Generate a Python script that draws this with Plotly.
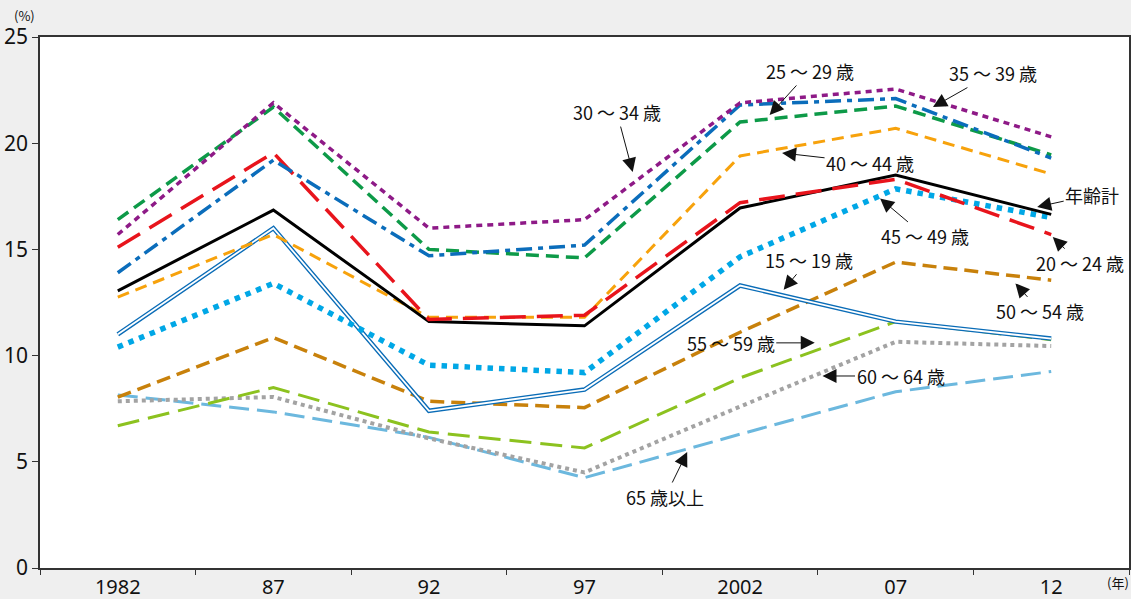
import plotly.graph_objects as go

years = ["1982", "87", "92", "97", "2002", "07", "12"]

total = [13.05, 16.85, 11.6, 11.4, 16.95, 18.5, 16.65]
age15_19 = [11.0, 16.0, 7.4, 8.4, 13.3, 11.6, 10.8]
age20_24 = [15.1, 19.55, 11.7, 11.9, 17.2, 18.3, 15.7]
age25_29 = [16.4, 21.7, 15.0, 14.6, 21.0, 21.75, 19.45]
age30_34 = [15.7, 21.9, 16.0, 16.4, 21.9, 22.55, 20.3]
age35_39 = [13.9, 19.2, 14.7, 15.2, 21.8, 22.1, 19.3]
age40_44 = [12.75, 15.7, 11.8, 11.8, 19.4, 20.7, 18.55]
age45_49 = [10.4, 13.4, 9.55, 9.2, 14.65, 17.85, 16.5]
age50_54 = [8.05, 10.85, 7.85, 7.55, 11.1, 14.4, 13.55]
age55_59 = [6.7, 8.5, 6.4, 5.65, 8.95, 11.6, 10.75]
age60_64 = [7.85, 8.05, 6.1, 4.5, 7.6, 10.65, 10.45]
age65 = [8.15, 7.35, 6.15, 4.25, 6.3, 8.3, 9.25]

fig = go.Figure()

def add(vals, color, width, dash, name):
    fig.add_trace(go.Scatter(x=years, y=vals, mode="lines", name=name,
                             line=dict(color=color, width=width, dash=dash),
                             hoverinfo="skip"))

add(age65, "#6cb8de", 3, "20px,8px", "65歳以上")
add(age60_64, "#a3a3a3", 4, "4px,4px", "60～64歳")
add(age55_59, "#8cc21f", 3, "22px,9px", "55～59歳")
add(age50_54, "#c8810b", 3.5, "14px,7px", "50～54歳")
add(age15_19, "#0a6cb7", 4.5, "solid", "15～19歳")
add(age15_19, "#ffffff", 1.8, "solid", "15～19歳_inner")
add(age45_49, "#00a7e6", 5.5, "5.5px,6px", "45～49歳")
add(age40_44, "#f7a20c", 3, "12px,7px", "40～44歳")
add(total, "#000000", 3, "solid", "年齢計")
add(age20_24, "#e8141c", 3.5, "26px,11px", "20～24歳")
add(age25_29, "#0d9a48", 3.5, "13px,7px", "25～29歳")
add(age35_39, "#0b6dbb", 3.5, "16px,6px,5px,6px", "35～39歳")
add(age30_34, "#8e1a87", 3.5, "6px,5px", "30～34歳")

jp = "Noto Sans CJK JP, Noto Sans, sans-serif"
afont = dict(family=jp, size=18, color="#111")

labels = [
    ("30 ～ 34 歳", 3.31, 18.64, -16, -60),
    ("25 ～ 29 歳", 4.19, 21.33, 40, -44),
    ("35 ～ 39 歳", 5.24, 21.7, 60, -34),
    ("40 ～ 44 歳", 4.27, 19.54, 88, 10),
    ("年齢計", 5.91, 17.0, 55, -12),
    ("45 ～ 49 歳", 4.9, 17.4, 45, 38),
    ("20 ～ 24 歳", 6.01, 15.58, 27, 26),
    ("15 ～ 19 歳", 4.28, 13.1, 25, -30),
    ("50 ～ 54 歳", 5.77, 13.4, 25, 28),
    ("55 ～ 59 歳", 4.48, 10.6, -84, 0),
    ("60 ～ 64 歳", 4.53, 9.04, 78, 0),
    ("65 歳以上", 3.66, 5.46, -22, 45),
]
for text, x, y, ax, ay in labels:
    fig.add_annotation(x=x, y=y, xref="x", yref="y", text=text, showarrow=True,
                       ax=ax, ay=ay, arrowhead=2, arrowsize=2.8, arrowwidth=1,
                       arrowcolor="#111", font=afont)

fig.add_annotation(x=-0.0138, y=1.041, xref="paper", yref="paper",
                   xanchor="center", yanchor="middle", text="(%)", showarrow=False,
                   font=dict(family=jp, size=13, color="#111"))
fig.add_annotation(x=0.99, y=-0.028, xref="paper", yref="paper",
                   xanchor="center", yanchor="middle", text="(年)", showarrow=False,
                   font=dict(family=jp, size=13, color="#111"))

fig.update_layout(
    width=1131, height=599,
    paper_bgcolor="#efefef", plot_bgcolor="#ffffff",
    margin=dict(l=40, r=2, t=37, b=31),
    showlegend=False,
    font=dict(family="Noto Sans, Noto Sans CJK JP, sans-serif", color="#111"),
)
fig.update_xaxes(type="category", tickson="boundaries", ticks="outside", ticklen=5,
                 tickcolor="#333", showline=True, linecolor="#333", linewidth=1.5,
                 mirror=True, showgrid=False, tickfont=dict(size=20),
                 range=[-0.5, 6.5], automargin=False, ticklabelstandoff=0)
fig.update_yaxes(range=[0, 25], dtick=5, ticks="outside", ticklen=6, tickcolor="#333",
                 showline=True, linecolor="#333", linewidth=1.5, mirror=True,
                 showgrid=False, zeroline=False, tickfont=dict(size=21),
                 automargin=False)

fig.write_html("out.html", config={"displayModeBar": False},
               post_script="document.body.style.margin='0';document.body.style.overflow='hidden';")
